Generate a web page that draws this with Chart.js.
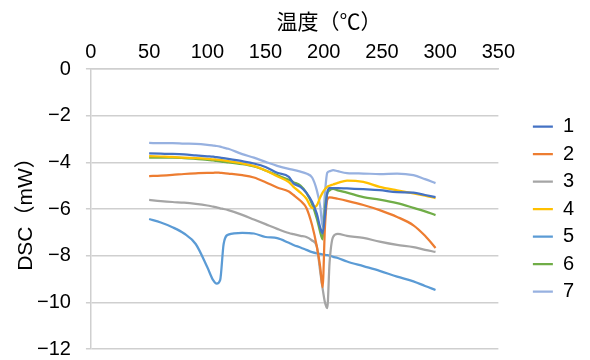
<!DOCTYPE html>
<html>
<head>
<meta charset="utf-8">
<script src="https://cdn.jsdelivr.net/npm/chart.js@4.4.1/dist/chart.umd.min.js"></script>
<style>
  html, body { margin: 0; padding: 0; background: #fff; }
  #wrap { width: 590px; height: 360px; }
</style>
</head>
<body>
<div id="wrap"><canvas id="dscChart" width="590" height="360"></canvas></div>
<script>
// temperatures (°C) shared by all curves
const temps = [50, 60, 70, 80, 90, 100, 105, 108, 111, 114, 118, 130, 140, 150, 160, 170, 174,
               180, 185, 190, 194, 197, 199, 201, 203, 205, 208, 212, 220, 234, 248, 263, 277, 287, 296];

// DSC readings (mW), one array per sample
const s1 = [-3.62, -3.63, -3.64, -3.66, -3.70, -3.74, -3.76, -3.78, -3.80, -3.82, -3.85, -3.95, -4.05, -4.20, -4.45, -4.62, -4.90,
            -5.05, -5.30, -5.70, -6.20, -6.80, -7.05, -6.30, -5.30, -5.10, -5.10, -5.10, -5.12, -5.15, -5.19, -5.28, -5.30, -5.40, -5.49];
const s2 = [-4.59, -4.57, -4.54, -4.50, -4.47, -4.45, -4.45, -4.44, -4.45, -4.46, -4.48, -4.55, -4.65, -4.85, -5.08, -5.25, -5.40,
            -5.65, -5.95, -6.70, -7.60, -8.50, -9.35, -6.80, -5.60, -5.50, -5.52, -5.56, -5.65, -5.83, -6.05, -6.34, -6.70, -7.15, -7.67];
const s3 = [-5.61, -5.66, -5.70, -5.73, -5.78, -5.85, -5.90, -5.93, -5.97, -6.00, -6.05, -6.25, -6.45, -6.65, -6.85, -7.03, -7.08,
            -7.15, -7.20, -7.35, -7.60, -8.70, -9.40, -10.0, -10.25, -8.30, -7.20, -7.07, -7.15, -7.24, -7.40, -7.54, -7.63, -7.75, -7.84];
const s4 = [-3.73, -3.75, -3.77, -3.80, -3.82, -3.85, -3.87, -3.88, -3.90, -3.92, -3.95, -4.05, -4.15, -4.35, -4.60, -4.85, -5.05,
            -5.30, -5.55, -5.95, -5.85, -5.50, -5.30, -5.15, -5.05, -5.00, -4.95, -4.88, -4.78, -4.84, -5.05, -5.20, -5.33, -5.43, -5.53];
const s5 = [-6.43, -6.58, -6.78, -7.05, -7.50, -8.50, -9.05, -9.20, -9.05, -7.50, -7.10, -7.02, -7.05, -7.20, -7.25, -7.45, -7.54,
            -7.65, -7.75, -7.85, -7.90, -7.92, -7.95, -7.97, -7.98, -8.00, -8.05, -8.10, -8.25, -8.45, -8.65, -8.90, -9.10, -9.30, -9.47];
const s6 = [-3.80, -3.80, -3.80, -3.82, -3.85, -3.90, -3.92, -3.94, -3.96, -3.98, -4.00, -4.08, -4.18, -4.35, -4.55, -4.75, -4.85,
            -5.00, -5.30, -5.80, -6.40, -7.00, -7.30, -6.00, -5.35, -5.20, -5.14, -5.20, -5.30, -5.49, -5.60, -5.75, -5.95, -6.10, -6.26];
const s7 = [-3.17, -3.18, -3.18, -3.20, -3.21, -3.25, -3.28, -3.30, -3.33, -3.37, -3.42, -3.65, -3.80, -3.98, -4.15, -4.28, -4.32,
            -4.40, -4.48, -4.65, -5.19, -5.90, -6.75, -5.33, -4.45, -4.38, -4.33, -4.38, -4.46, -4.48, -4.50, -4.48, -4.55, -4.72, -4.89];

const seriesNames = ['1', '2', '3', '4', '5', '6', '7'];
const seriesData = [s1, s2, s3, s4, s5, s6, s7];
const seriesColors = ['#4472C4', '#ED7D31', '#A5A5A5', '#FFC000', '#5B9BD5', '#70AD47', '#97B1E0'];

const xTicks = { min: 0, max: 350, step: 50 };
const yTicks = { min: -12, max: 0, step: 2 };
const xTitle = '温度（℃）';
const yTitle = 'DSC（mW）';

const gridColor = '#CFCFCF';
const fontFamily = '"Liberation Sans", "Noto Sans CJK JP", sans-serif';

const datasets = seriesNames.map((name, i) => ({
    label: name,
    data: temps.map((t, j) => ({ x: t, y: seriesData[i][j] })),
    borderColor: seriesColors[i],
    backgroundColor: seriesColors[i],
    borderWidth: 2.25,
    pointRadius: 0,
    fill: false,
    cubicInterpolationMode: 'monotone',
    xAxisID: 'x',
    yAxisID: 'y'
}));

// the axis title above the top axis sits right of centre, so draw it here
const topTitle = {
    id: 'topTitle',
    afterDraw(chart) {
        const ctx = chart.ctx;
        ctx.save();
        ctx.font = '21px "Noto Sans CJK JP", sans-serif';
        ctx.fillStyle = '#000';
        ctx.textAlign = 'center';
        ctx.textBaseline = 'middle';
        ctx.fillText(xTitle, 329, 21);
        ctx.restore();
    }
};

new Chart(document.getElementById('dscChart').getContext('2d'), {
    type: 'line',
    data: { datasets: datasets },
    options: {
        responsive: false,
        animation: false,
        layout: { padding: { top: 35, left: 16, right: 6, bottom: 11 } },
        plugins: {
            legend: {
                position: 'right',
                fullSize: false,
                labels: {
                    usePointStyle: true,
                    pointStyle: 'line',
                    pointStyleWidth: 20,
                    padding: 7.5,
                    color: '#000',
                    font: { family: fontFamily, size: 20 }
                }
            },
            tooltip: { enabled: false }
        },
        scales: {
            x: {
                type: 'linear',
                position: 'top',
                min: xTicks.min,
                max: xTicks.max,
                grid: { drawOnChartArea: false, drawTicks: false, color: gridColor },
                border: { display: true, color: gridColor, width: 1.5 },
                ticks: {
                    stepSize: xTicks.step,
                    padding: 5,
                    color: '#000',
                    font: { family: fontFamily, size: 20 }
                }
            },
            y: {
                type: 'linear',
                position: 'left',
                min: yTicks.min,
                max: yTicks.max,
                // long tick slot keeps the labels off the axis; the dash shows only its last 5px
                grid: { color: gridColor, lineWidth: 1.5, tickLength: 20, tickBorderDash: [0, 15, 6, 1000] },
                border: { display: true, color: gridColor, width: 1.5 },
                ticks: {
                    stepSize: yTicks.step,
                    padding: 0,
                    color: '#000',
                    font: { family: fontFamily, size: 20, lineHeight: 1 },
                    callback: v => (v < 0 ? '\u2212' + Math.abs(v) : String(v))
                },
                title: {
                    display: true,
                    text: yTitle,
                    color: '#000',
                    padding: { top: 0, bottom: 0 },
                    font: { family: fontFamily, size: 21, lineHeight: 1 }
                }
            },
            // empty axis, only keeps a gap between the plot and the legend
            gap: {
                type: 'linear',
                position: 'right',
                grid: { display: false, drawTicks: false },
                border: { display: false },
                ticks: { display: false },
                title: { display: true, text: '', padding: 0, font: { size: 27, lineHeight: 1 } }
            }
        }
    },
    plugins: [topTitle]
});
</script>
</body>
</html>
